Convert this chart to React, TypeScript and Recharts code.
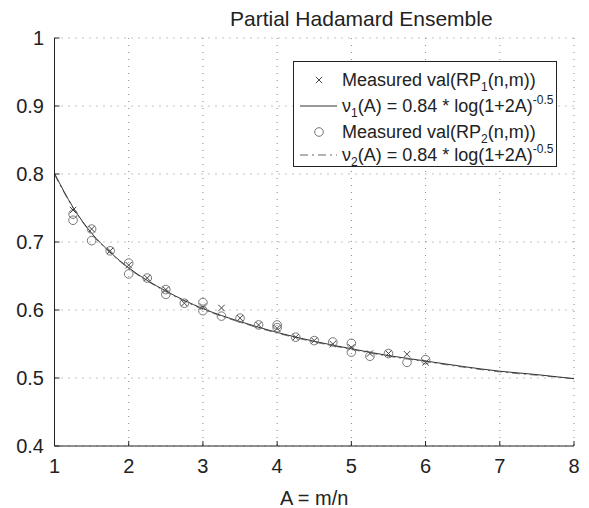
import { ComposedChart, Line, Scatter, XAxis, YAxis, CartesianGrid, Legend } from "recharts";

const FONT = '"Liberation Sans", Arial, Helvetica, sans-serif';

// x ticks and y ticks
const xTicks = [1, 2, 3, 4, 5, 6, 7, 8];
const yTicks = [0.4, 0.5, 0.6, 0.7, 0.8, 0.9, 1];

// measured val(RP1(n,m)) - crosses
const rp1A = [1.25, 1.5, 1.75, 2, 2.25, 2.5, 2.75, 3, 3.25, 3.5, 3.75, 4, 4.25, 4.5, 4.75, 5, 5.25, 5.5, 5.75, 6];
const rp1Val = [0.747, 0.719, 0.687, 0.666, 0.647, 0.63, 0.61, 0.605, 0.603, 0.588, 0.578, 0.573, 0.56, 0.555, 0.55, 0.545, 0.536, 0.536, 0.535, 0.523];

// measured val(RP2(n,m)) - circles (some A have two runs)
const rp2A = [1.25, 1.25, 1.5, 1.5, 1.75, 2, 2, 2.25, 2.5, 2.5, 2.75, 3, 3, 3.25, 3.5, 3.75, 4, 4, 4.25, 4.5, 4.75, 5, 5, 5.25, 5.5, 5.75, 6];
const rp2Val = [0.741, 0.732, 0.719, 0.702, 0.687, 0.669, 0.653, 0.647, 0.63, 0.623, 0.61, 0.611, 0.599, 0.591, 0.588, 0.578, 0.578, 0.574, 0.56, 0.555, 0.553, 0.551, 0.538, 0.532, 0.536, 0.523, 0.527];

// fitted curves
const curveA = [1, 1.25, 1.5, 1.75, 2, 2.5, 3, 3.5, 4, 4.5, 5, 5.5, 6, 6.5, 7, 7.5, 8];
const nu1Val = [0.801, 0.751, 0.713, 0.685, 0.662, 0.628, 0.602, 0.583, 0.567, 0.554, 0.543, 0.533, 0.525, 0.517, 0.51, 0.505, 0.499];
const nu2Val = [0.799, 0.75, 0.712, 0.684, 0.661, 0.627, 0.601, 0.582, 0.566, 0.553, 0.542, 0.532, 0.524, 0.516, 0.509, 0.504, 0.499];

const rp1 = rp1A.map((a, i) => ({ a, v: rp1Val[i] }));
const rp2 = rp2A.map((a, i) => ({ a, v: rp2Val[i] }));
const nu1 = curveA.map((a, i) => ({ a, v: nu1Val[i] }));
const nu2 = curveA.map((a, i) => ({ a, v: nu2Val[i] }));

const XMark = (props: any) => {
  const { cx, cy } = props;
  const s = 3.2;
  return (
    <g stroke="#444" strokeWidth={1}>
      <line x1={cx - s} y1={cy - s} x2={cx + s} y2={cy + s} />
      <line x1={cx - s} y1={cy + s} x2={cx + s} y2={cy - s} />
    </g>
  );
};

const OMark = (props: any) => {
  const { cx, cy } = props;
  return <circle cx={cx} cy={cy} r={4.3} fill="none" stroke="#777" strokeWidth={1} />;
};

const sub = { fontSize: 12, position: "relative" as const, top: 5 };
const sup = { fontSize: 12, position: "relative" as const, top: -8 };

const row = (top: number, sample: any, text: any) => (
  <div style={{ position: "absolute", left: 0, top: top - 11, height: 22, width: 262 }}>
    <svg width={46} height={22} style={{ position: "absolute", left: 4, top: 0 }}>
      {sample}
    </svg>
    <div style={{ position: "absolute", left: 48, top: 0, lineHeight: "22px", whiteSpace: "nowrap" }}>{text}</div>
  </div>
);

const LegendBox = () => (
  <div
    style={{
      position: "relative",
      width: 262,
      height: 104,
      border: "1px solid #222",
      background: "#fff",
      fontFamily: FONT,
      fontSize: 18,
      color: "#222",
    }}
  >
    {row(18, <XMark cx={21} cy={11} />, <span>Measured val(RP<span style={sub}>1</span>(n,m))</span>)}
    {row(
      44,
      <line x1={2} y1={11} x2={39} y2={11} stroke="#333" strokeWidth={1} />,
      <span>
        ν<span style={sub}>1</span>(A) = 0.84 * log(1+2A)<span style={sup}>-0.5</span>
      </span>
    )}
    {row(70, <OMark cx={21} cy={11} />, <span>Measured val(RP<span style={sub}>2</span>(n,m))</span>)}
    {row(
      93,
      <line x1={2} y1={11} x2={39} y2={11} stroke="#666" strokeWidth={1} strokeDasharray="8 4 2 4" />,
      <span>
        ν<span style={sub}>2</span>(A) = 0.84 * log(1+2A)<span style={sup}>-0.5</span>
      </span>
    )}
  </div>
);

export default function App() {
  const tickStyle = { fill: "#222", fontSize: 20, fontFamily: FONT };
  return (
    <div style={{ position: "fixed", left: 0, top: 0, width: 589, height: 508, background: "#fff" }}>
      <div
        style={{
          position: "absolute",
          left: 230,
          top: 7,
          fontFamily: FONT,
          fontSize: 21,
          color: "#222",
          whiteSpace: "nowrap",
        }}
      >
        Partial Hadamard Ensemble
      </div>
      <ComposedChart width={589} height={508} margin={{ top: 38, right: 15, bottom: 0, left: 4 }}>
        <CartesianGrid stroke="#888" strokeDasharray="1 6" />
        <XAxis
          dataKey="a"
          type="number"
          domain={[1, 8]}
          ticks={xTicks}
          interval={0}
          allowDataOverflow
          height={62}
          stroke="#222"
          tickSize={-5}
          tickMargin={18}
          tick={tickStyle}
          label={{ value: "A = m/n", position: "insideBottom", offset: 3, fill: "#222", fontSize: 20, fontFamily: FONT }}
        />
        <XAxis xAxisId="top" orientation="top" dataKey="a" type="number" domain={[1, 8]} ticks={xTicks} height={0} stroke="#222" tick={false} tickSize={-5} />
        <YAxis
          dataKey="v"
          type="number"
          domain={[0.4, 1]}
          ticks={yTicks}
          interval={0}
          allowDataOverflow
          width={50.5}
          stroke="#222"
          tickSize={-5}
          tickMargin={15.5}
          tick={tickStyle}
        />
        <YAxis yAxisId="right" orientation="right" type="number" domain={[0.4, 1]} ticks={yTicks} width={0} stroke="#222" tick={false} tickSize={-5} />
        <Line data={nu2} dataKey="v" type="monotone" stroke="#777" strokeWidth={1} strokeDasharray="8 4 2 4" dot={false} activeDot={false} isAnimationActive={false} />
        <Line data={nu1} dataKey="v" type="monotone" stroke="#333" strokeWidth={1} dot={false} activeDot={false} isAnimationActive={false} />
        <Scatter data={rp2} dataKey="v" shape={<OMark />} isAnimationActive={false} />
        <Scatter data={rp1} dataKey="v" shape={<XMark />} isAnimationActive={false} />
        <Legend
          layout="horizontal"
          verticalAlign="middle"
          align="center"
          wrapperStyle={{ left: 293, top: 61, width: 264, height: 106 }}
          content={() => <LegendBox />}
        />
      </ComposedChart>
    </div>
  );
}
